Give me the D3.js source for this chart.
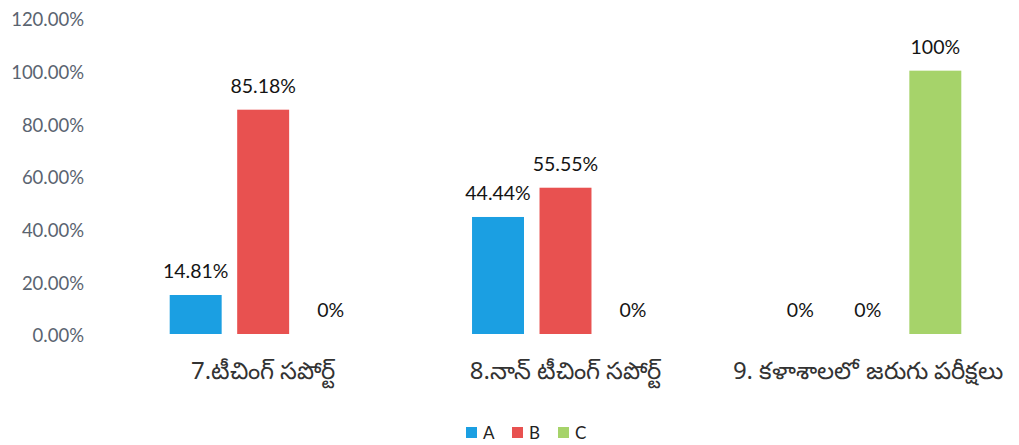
<!DOCTYPE html>
<meta charset="utf-8">
<style>
    body { margin: 0; background: #fff; }
    .tick text { font: 18.5px "Lato", "Open Sans", sans-serif; fill: #5a6470; }
    .val { font: 19.5px "Lato", "Open Sans", sans-serif; fill: #141414; text-anchor: middle; }
    .cat { font: 24px "Noto Sans", "Lato", sans-serif; fill: #333; text-anchor: middle; }
    .leg { font: 17px "Lato", "Open Sans", sans-serif; fill: #222; }
</style>
<body>
<script src="https://d3js.org/d3.v7.min.js"></script>
<script>
    var categories = ["7.టీచింగ్ సపోర్ట్", "8.నాన్ టీచింగ్ సపోర్ట్", "9. కళాశాలలో జరుగు పరీక్షలు"];
    var seriesNames = ["A", "B", "C"];
    var seriesA = [14.81, 44.44, 0];
    var seriesB = [85.18, 55.55, 0];
    var seriesC = [0, 0, 100];
    var valueLabels = [["14.81%", "44.44%", "0%"], ["85.18%", "55.55%", "0%"], ["0%", "0%", "100%"]];
    var colors = ["#1b9fe2", "#e85150", "#a6d36a"];
    var yTicks = [0, 20, 40, 60, 80, 100, 120];

    var width = 1019, height = 445;
    var svg = d3.select("body").append("svg").attr("width", width).attr("height", height);

    var x = d3.scaleBand().domain(categories).range([112, 1019]).paddingInner(0).paddingOuter(0);
    var y = d3.scaleLinear().domain([0, 120]).range([334, 18]);
    var xs = d3.scaleBand().domain(seriesNames).range([0, x.bandwidth()]).paddingInner(0.23).paddingOuter(0.855);

    var yAxis = svg.append("g").attr("transform", "translate(84,2)")
        .call(d3.axisLeft(y).tickValues(yTicks).tickSize(0).tickPadding(0).tickFormat(function(d) { return d.toFixed(2) + "%"; }));
    yAxis.select(".domain").remove();

    var series = [seriesA, seriesB, seriesC];
    var rows = [];
    series.forEach(function(s, si) {
        s.forEach(function(v, ci) {
            rows.push({ s: seriesNames[si], c: categories[ci], v: v, lab: valueLabels[si][ci], col: colors[si] });
        });
    });

    svg.selectAll("rect.bar").data(rows).enter().append("rect")
        .attr("class", "bar")
        .attr("x", function(d) { return x(d.c) + xs(d.s); })
        .attr("width", xs.bandwidth())
        .attr("y", function(d) { return y(d.v); })
        .attr("height", function(d) { return y(0) - y(d.v); })
        .attr("fill", function(d) { return d.col; });

    svg.selectAll("text.val").data(rows).enter().append("text")
        .attr("class", "val")
        .attr("x", function(d) { return x(d.c) + xs(d.s) + xs.bandwidth() / 2; })
        .attr("y", function(d) { return y(d.v) - 17; })
        .text(function(d) { return d.lab; });

    svg.selectAll("text.cat").data(categories).enter().append("text")
        .attr("class", "cat")
        .attr("x", function(d) { return x(d) + x.bandwidth() / 2; })
        .attr("y", 379)
        .text(function(d) { return d; });

    var leg = svg.append("g").attr("transform", "translate(466,427)");
    seriesNames.forEach(function(n, i) {
        var g = leg.append("g").attr("transform", "translate(" + (i * 46) + ",0)");
        g.append("rect").attr("width", 11).attr("height", 11).attr("fill", colors[i]);
        g.append("text").attr("class", "leg").attr("x", 17).attr("y", 12).text(n);
    });
</script>
</body>
